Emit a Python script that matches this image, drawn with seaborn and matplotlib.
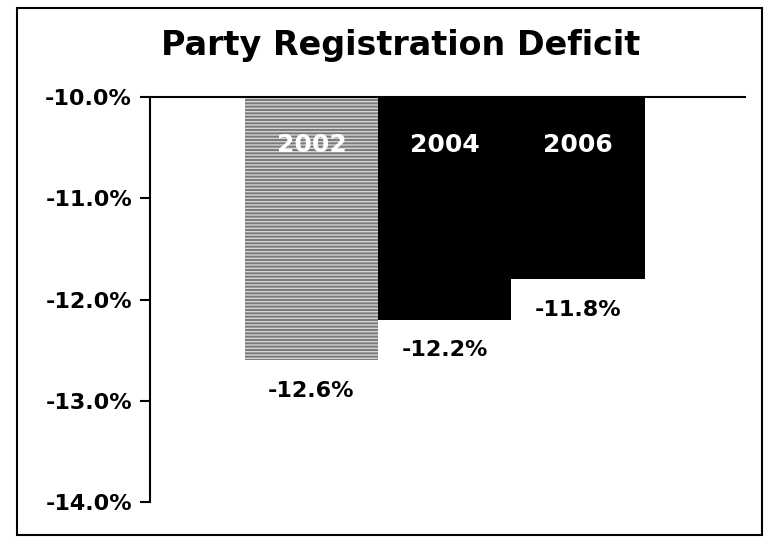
import matplotlib
matplotlib.use("Agg")
import matplotlib.pyplot as plt
import matplotlib.patches as mpatches
from matplotlib.ticker import FuncFormatter
import pandas as pd
import seaborn as sns

years = ["2002", "2004", "2006"]
deficit = [-12.6, -12.2, -11.8]
bar_colors = ["#7a7a7a", "#000000", "#000000"]
y_ticks = [-10.0, -11.0, -12.0, -13.0, -14.0]

df = pd.DataFrame({"year": years, "deficit": deficit})

sns.set_theme(style="white")
plt.rcParams["font.family"] = ["DejaVu Sans"]

fig = plt.figure(figsize=(7.66, 5.56), dpi=100)
ax = fig.add_axes([0.196, 0.097, 0.776, 0.728])

sns.barplot(data=df, x="year", y="deficit", hue="year", palette=bar_colors,
            width=1.0, legend=False, ax=ax, saturation=1, linewidth=0)

# textured look for the 2002 bar
ax.patches[0].set_hatch("-----")
ax.patches[0].set_edgecolor("#d4d4d4")

ax.set_ylim(-14, -10)
ax.set_xlim(-1.21, 3.25)
ax.set_yticks(y_ticks)
ax.yaxis.set_major_formatter(FuncFormatter(lambda v, p: f"{v:.1f}%"))
ax.set_xticks([])
ax.set_xlabel("")
ax.set_ylabel("")

for s in ["right", "bottom"]:
    ax.spines[s].set_visible(False)
for s in ["left", "top"]:
    ax.spines[s].set_color("black")
    ax.spines[s].set_linewidth(1.5)

ax.tick_params(axis="y", left=True, length=7, width=1.5, color="black",
               labelsize=16, labelcolor="black", pad=6)
for lbl in ax.get_yticklabels():
    lbl.set_fontweight("bold")

for i, (yr, val) in enumerate(zip(years, deficit)):
    ax.text(i, -10.47, yr, ha="center", va="center", color="white",
            fontsize=18, fontweight="bold")
    ax.text(i, val - 0.3, f"{val:.1f}%", ha="center", va="center",
            color="black", fontsize=16, fontweight="bold")

fig.text(0.523, 0.918, "Party Registration Deficit", ha="center",
         va="center", fontsize=24, fontweight="bold", color="black")

# outer frame of the chart area
fig.patches.append(mpatches.Rectangle((17 / 766, 1 - 535 / 556),
                                      745 / 766, 527 / 556,
                                      transform=fig.transFigure,
                                      fill=False, edgecolor="black",
                                      linewidth=1.5))

fig.savefig("out.png", dpi=100)
